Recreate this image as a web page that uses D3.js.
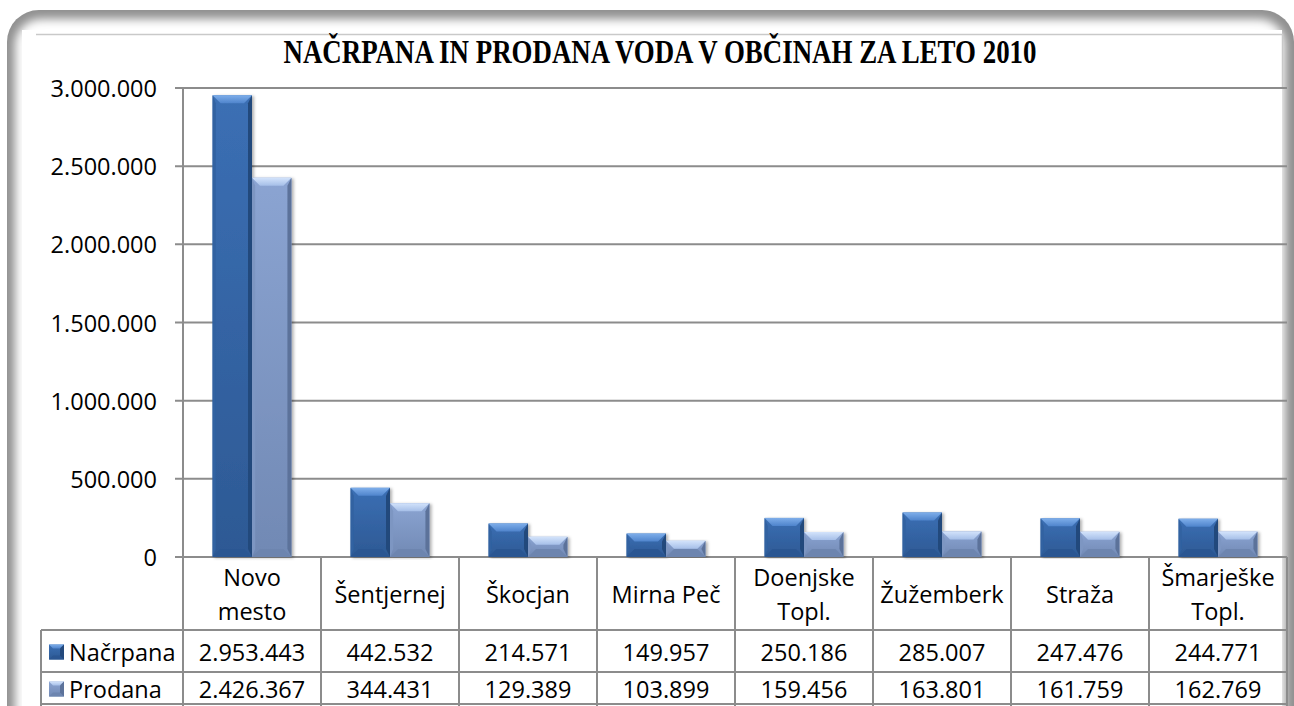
<!DOCTYPE html>
<html><head><meta charset="utf-8">
<script src="https://cdn.jsdelivr.net/npm/d3@7/dist/d3.min.js"></script>
<style>html,body{margin:0;padding:0;background:#fff;overflow:hidden}svg{display:block}</style>
</head><body>
<script>
const title = "NAČRPANA IN PRODANA VODA V OBČINAH ZA LETO 2010";
const categories = ["Novo mesto","Šentjernej","Škocjan","Mirna Peč","Doenjske Topl.","Žužemberk","Straža","Šmarješke Topl."];
const categoryLines = [["Novo","mesto"],["Šentjernej"],["Škocjan"],["Mirna Peč"],["Doenjske","Topl."],["Žužemberk"],["Straža"],["Šmarješke","Topl."]];
const seriesNames = ["Načrpana","Prodana"];
const nacrpana = [2953443,442532,214571,149957,250186,285007,247476,244771];
const prodana = [2426367,344431,129389,103899,159456,163801,161759,162769];
const tickValues = [0,500000,1000000,1500000,2000000,2500000,3000000];

const W=1294,H=706;
const svg=d3.select("body").append("svg").attr("width",W).attr("height",H);
const defs=svg.append("defs");
const loc=d3.formatLocale({decimal:",",thousands:".",grouping:[3],currency:["","€"]});
const fmt=loc.format(",");
const FONT="'Open Sans','Noto Sans',sans-serif";
const FS=23.5;

// filters
const blur=defs.append("filter").attr("id","blur").attr("x","-5%").attr("y","-5%").attr("width","110%").attr("height","110%");
blur.append("feGaussianBlur").attr("stdDeviation",5);
const sh=defs.append("filter").attr("id","sh").attr("x","-20%").attr("y","-5%").attr("width","140%").attr("height","110%");
sh.append("feDropShadow").attr("dx",2).attr("dy",1).attr("stdDeviation",1.5).attr("flood-color","#000").attr("flood-opacity",0.3);

function grad(id,c0,c1){const g=defs.append("linearGradient").attr("id",id).attr("x1",0).attr("y1",0).attr("x2",0).attr("y2",1);
 g.append("stop").attr("offset","0%").attr("stop-color",c0);g.append("stop").attr("offset","100%").attr("stop-color",c1);}
grad("f0","#3b6fb4","#2d5994");grad("t0","#7eaeea","#4f84cc");
grad("f1","#8ba4d2","#7189b4");grad("t1","#d3e3fb","#a6bfe8");

const styles=[
 {face:"url(#f0)",top:"url(#t0)",left:"#3062a1",right:"#24497c",bottom:"#2b5692"},
 {face:"url(#f1)",top:"url(#t1)",left:"#7d96c2",right:"#5c729a",bottom:"#6d85af"}
];

// frame
svg.append("rect").attr("x",7).attr("y",10).attr("width",1287).attr("height",740).attr("rx",32).attr("fill","#909090");
svg.append("rect").attr("x",15).attr("y",19).attr("width",1270).attr("height",730).attr("rx",26).attr("fill","#fff").attr("filter","url(#blur)");
svg.append("rect").attr("x",22).attr("y",30).attr("width",1260).attr("height",700).attr("fill","#fff");
svg.append("path").attr("d","M36,34.5H1282.5V88").attr("fill","none").attr("stroke","#c9c9c9").attr("stroke-width",1.5);

// scales
const x0=d3.scaleBand().domain(categories).range([183,1287]).paddingInner(0).paddingOuter(0);
const bw=x0.bandwidth();
const x1=d3.scaleBand().domain(seriesNames).range([0,bw]).paddingInner(0).paddingOuter(0.75);
const y=d3.scaleLinear().domain([0,3000000]).range([557,88]);

// gridlines + ticks
const g=svg.append("g");
g.selectAll("line.grid").data(tickValues).join("line").attr("x1",175).attr("x2",1287)
 .attr("y1",d=>y(d)).attr("y2",d=>y(d)).attr("stroke","#8c8c8c").attr("stroke-width",2);
g.append("line").attr("x1",183).attr("x2",183).attr("y1",88).attr("y2",630).attr("stroke","#8c8c8c").attr("stroke-width",2);
g.selectAll("text.yt").data(tickValues).join("text").attr("x",157).attr("y",d=>y(d)).attr("text-anchor","end")
 .attr("dominant-baseline","central").attr("font-family",FONT).attr("font-size",FS).attr("fill","#000").text(d=>fmt(d));

// bars
const seriesData=[nacrpana,prodana];
const bars=svg.append("g");
seriesData.forEach((vals,si)=>{
 const st=styles[si];
 categories.forEach((c,i)=>{
  const xa=x0(c)+x1(seriesNames[si]), xb=xa+x1.bandwidth();
  const ya=y(vals[i]), yb=y(0);
  const b=Math.min(8,(yb-ya)/2,(xb-xa)/2);
  const gg=bars.append("g").attr("filter","url(#sh)");
  gg.append("rect").attr("x",xa).attr("y",ya).attr("width",xb-xa).attr("height",yb-ya).attr("fill",st.face);
  const poly=(pts,f)=>gg.append("polygon").attr("points",pts.map(p=>p.join(",")).join(" ")).attr("fill",f);
  poly([[xa,ya],[xb,ya],[xb-b,ya+b],[xa+b,ya+b]],st.top);
  poly([[xa,ya],[xa+b*0.4,ya+b],[xa+b*0.4,yb-b],[xa,yb]],st.left);
  poly([[xb,ya],[xb,yb],[xb-b*0.5,yb-b],[xb-b*0.5,ya+b]],st.right);
  poly([[xa,yb],[xb,yb],[xb-b,yb-b],[xa+b,yb-b]],st.bottom);
 });
});

// data table
const tb=svg.append("g");
const lc="#8c8c8c";
const rowY=[557,630,672,704];
categories.forEach((c,i)=>{
 const xl=x0(c);
 tb.append("line").attr("x1",xl+bw).attr("x2",xl+bw).attr("y1",557).attr("y2",706).attr("stroke",lc).attr("stroke-width",2);
 const lines=categoryLines[i];
 const cx=xl+bw/2;
 lines.forEach((t,k)=>{
  const cy=lines.length===1?594:(k===0?577:611);
  tb.append("text").attr("x",cx).attr("y",cy).attr("text-anchor","middle").attr("dominant-baseline","central")
   .attr("font-family",FONT).attr("font-size",FS).attr("fill","#000").text(t);
 });
 seriesData.forEach((vals,si)=>{
  tb.append("text").attr("x",cx).attr("y",(rowY[si+1]+rowY[si+2])/2+1).attr("text-anchor","middle").attr("dominant-baseline","central")
   .attr("font-family",FONT).attr("font-size",FS).attr("fill","#000").text(fmt(vals[i]));
 });
});
[630,672,704].forEach(yy=>tb.append("line").attr("x1",41).attr("x2",1287).attr("y1",yy).attr("y2",yy).attr("stroke",lc).attr("stroke-width",2));
tb.append("line").attr("x1",41).attr("x2",41).attr("y1",630).attr("y2",706).attr("stroke",lc).attr("stroke-width",2);
tb.append("line").attr("x1",183).attr("x2",183).attr("y1",557).attr("y2",706).attr("stroke",lc).attr("stroke-width",2);
seriesNames.forEach((s,si)=>{
 const cy=(rowY[si+1]+rowY[si+2])/2+1;
 const st=styles[si];
 const kx=49,ky=cy-7.5,ks=15,b=4;
 const kg=tb.append("g");
 kg.append("rect").attr("x",kx).attr("y",ky).attr("width",ks).attr("height",ks).attr("fill",st.face);
 const poly=(pts,f)=>kg.append("polygon").attr("points",pts.map(p=>p.join(",")).join(" ")).attr("fill",f);
 poly([[kx,ky],[kx+ks,ky],[kx+ks-b,ky+b],[kx+b,ky+b]],st.top);
 poly([[kx,ky+ks],[kx+ks,ky+ks],[kx+ks-b,ky+ks-b],[kx+b,ky+ks-b]],st.bottom);
 poly([[kx+ks,ky],[kx+ks,ky+ks],[kx+ks-b,ky+ks-b],[kx+ks-b,ky+b]],st.right);
 tb.append("text").attr("x",69).attr("y",cy).attr("dominant-baseline","central").attr("font-family",FONT)
  .attr("font-size",FS).attr("fill","#000").text(s);
});

// title
svg.append("text").attr("x",660).attr("y",51).attr("text-anchor","middle").attr("dominant-baseline","central")
 .attr("font-family","'Liberation Serif','DejaVu Serif',serif").attr("font-weight","bold").attr("font-size",34)
 .attr("textLength",753).attr("lengthAdjust","spacingAndGlyphs").attr("fill","#000").text(title);
</script>
</body></html>
